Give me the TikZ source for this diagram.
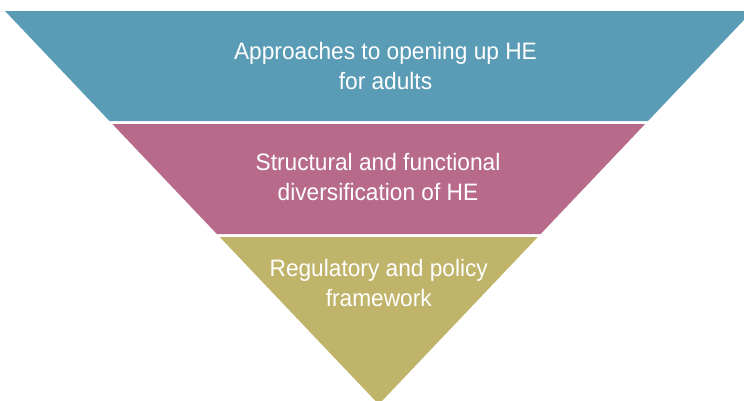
\documentclass[tikz,border=0pt]{standalone}
\usepackage{fontspec}
\setmainfont[FakeStretch=0.955]{Liberation Sans}
\definecolor{layerblue}{RGB}{90,156,181}
\definecolor{layerpink}{RGB}{183,106,137}
\definecolor{layerolive}{RGB}{191,180,106}
\tikzset{
    layertext/.style = {anchor = north, inner sep = 0pt, align = center, text = white,
        font = \fontsize{16.9}{21.3}\selectfont}
}
\begin{document}
\begin{tikzpicture}[x = 0.025cm, y = -0.025cm]
        \useasboundingbox (0, 0) rectangle (744, 401);
        \clip (0, 0) rectangle (744, 401);
        \fill [layerblue] (5, 11) -- (752.5, 11) -- (648, 121) -- (109.5, 121) -- cycle;
        \fill [layerpink] (112.35, 124) -- (645.15, 124) -- (540.65, 234) -- (216.85, 234) -- cycle;
        \fill [layerolive] (219.7, 237) -- (537.8, 237) -- (378.75, 404.4) -- cycle;
        \node [layertext] (approaches) at (385.5, 42) {Approaches to opening up HE\\for adults};
        \node [layertext] (diversification) at (378, 153) {Structural and functional\\diversification of HE};
        \node [layertext] (framework) at (378.75, 259) {Regulatory and policy\\framework};
    \end{tikzpicture}
\end{document}
